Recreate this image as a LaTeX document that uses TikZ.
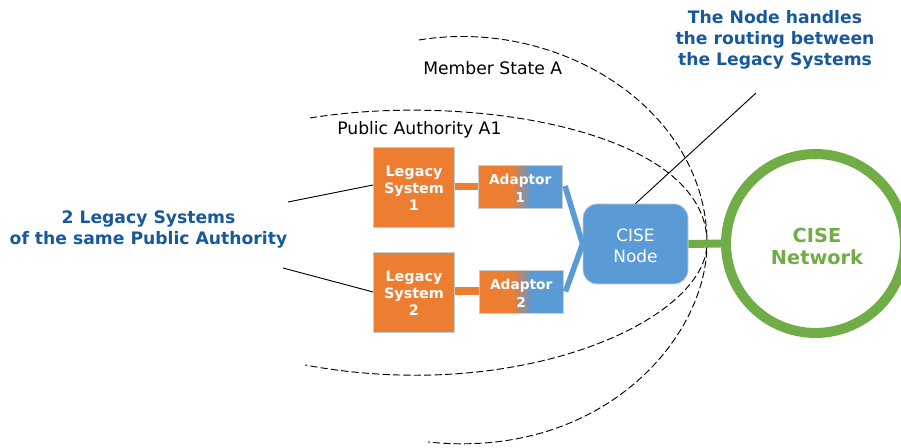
\documentclass[tikz,border=0pt]{standalone}
\usepackage{fontspec}
\setmainfont{DejaVu Sans}
\definecolor{cOrange}{HTML}{ED7D31}
\definecolor{cBlue}{HTML}{5B9BD5}
\definecolor{cGreen}{HTML}{70AD47}
\definecolor{cTitle}{HTML}{17599B}
\definecolor{cEdge}{HTML}{C4CCD4}
\pgfdeclarehorizontalshading{adaptorshade}{100bp}{color(0bp)=(cOrange); color(45bp)=(cOrange); color(56bp)=(cBlue); color(100bp)=(cBlue)}
\tikzset{
  x=0.75pt,y=-0.75pt,
  legacy/.style={draw=cEdge,line width=0.6pt,fill=cOrange,minimum width=60.75pt,minimum height=60pt,inner sep=0pt},
  adaptor/.style={draw=cEdge,line width=0.6pt,shading=adaptorshade,minimum width=62.6pt,minimum height=31.8pt,inner sep=0pt},
  boxtext/.style={text=white,font=\bfseries\fontsize{10.8}{12.6}\selectfont,align=center,inner sep=0pt},
  adaptext/.style={text=white,font=\bfseries\fontsize{10.3}{13.5}\selectfont,align=center,inner sep=0pt},
  cisenode/.style={draw=cEdge,line width=0.6pt,fill=cBlue,rounded corners=10.5pt,minimum width=78.75pt,minimum height=60pt,inner sep=0pt},
  cisetext/.style={text=white,font=\fontsize{12.7}{15.75}\selectfont,align=center,inner sep=0pt},
  ring/.style={circle,draw=cGreen,line width=7.5pt,minimum size=134.2pt,inner sep=0pt},
  ringtext/.style={text=cGreen,font=\bfseries\fontsize{14.5}{16.5}\selectfont,align=center,inner sep=0pt},
  bluelabel/.style={text=cTitle,font=\bfseries\fontsize{12.9}{15.8}\selectfont,align=center,inner sep=0pt},
  plainlabel/.style={text=black,font=\fontsize{12.9}{15}\selectfont,inner sep=0pt},
  orangelink/.style={draw=cOrange,line width=5.4pt},
  bluelink/.style={draw=cBlue,line width=4.2pt},
  greenlink/.style={draw=cGreen,line width=6pt},
  boundary/.style={draw=black,line width=0.7pt,dash pattern=on 5.4pt off 2.4pt},
  pointer/.style={draw=black,line width=0.7pt},
}
\begin{document}
\begin{tikzpicture}
\useasboundingbox (0,0) rectangle (901,448);
\clip (0,0) rectangle (901,448);
% boundaries
\draw[boundary] (419,40) .. controls (560,17) and (707,110) .. (707,243) .. controls (707,340) and (600,460) .. (428,442);
\draw[boundary] (310,118) .. controls (470,92) and (707,130) .. (707,243) .. controls (707,320) and (520,405) .. (305,365);
% boxes
\node[legacy] (L1) at (414,187) {};
\node[boxtext] at (414,188) {Legacy\\System\\1};
\node[legacy] (L2) at (414,292) {};
\node[boxtext] at (414,293) {Legacy\\System\\2};
\node[adaptor] (A1) at (520.25,187) {};
\node[adaptext] at (520.25,188.5) {Adaptor\\1};
\node[adaptor] (A2) at (521.25,291.75) {};
\node[adaptext] at (521.25,293.25) {Adaptor\\2};
\node[cisenode] (N) at (635.5,244) {};
\node[cisetext] at (635.5,246) {CISE\\Node};
\node[ring] (R) at (815.5,243.5) {};
\node[ringtext] (RT) at (817,246.5) {CISE\\Network};
% links
\draw[orangelink] (L1.east |- 0,186.3) -- (A1.west |- 0,186.3);
\draw[orangelink] (L2.east |- 0,291) -- (A2.west |- 0,291);
\coordinate (J) at (N.west);
\coordinate (B1) at (565,186);
\coordinate (B2) at (565.5,291.5);
\draw[bluelink] (B1) -- (J);
\draw[bluelink] (B2) -- (J);
\draw[greenlink] (N.east) -- (R.west);
% labels
\node[bluelabel] (T) at (775,40) {The Node handles\\the routing between\\the Legacy Systems};
\node[bluelabel] (S) at (148.5,229.5) {2 Legacy Systems\\of the same Public Authority};
\node[plainlabel,anchor=west] (MS) at (423,68) {Member State A};
\node[plainlabel,anchor=west] (PA) at (337,130) {Public Authority A1};
% pointers
\coordinate (S1) at (288,202);
\coordinate (S2) at (283,268);
\coordinate (T1) at (756,93);
\draw[pointer] (S1) -- (L1.west |- 0,185);
\draw[pointer] (S2) -- (L2.west |- 0,292);
\draw[pointer] (T1) -- (N.north);
\end{tikzpicture}
\end{document}
